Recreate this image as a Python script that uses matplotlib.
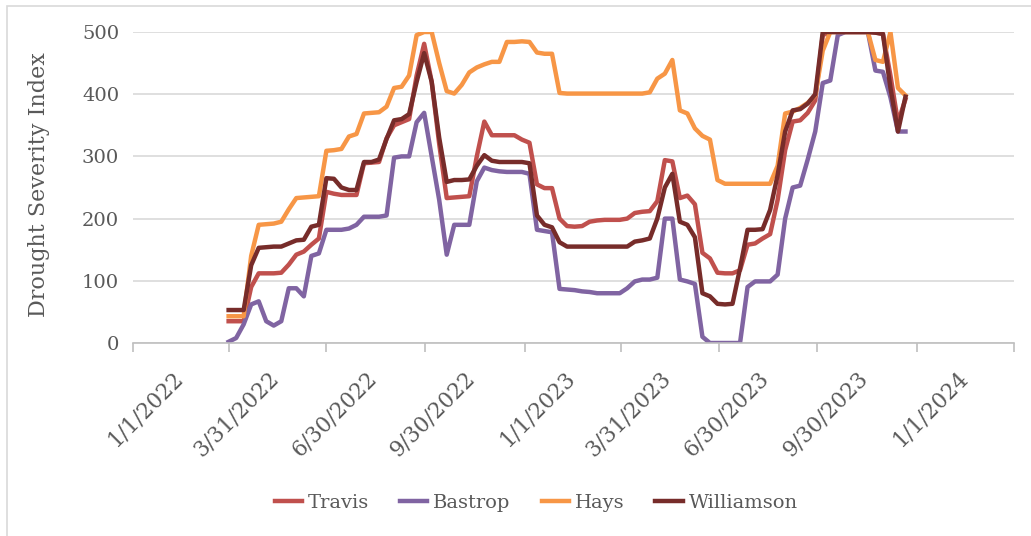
import numpy as np
import pandas as pd
import matplotlib
matplotlib.use("Agg")
import matplotlib.pyplot as plt
from matplotlib.patches import Rectangle
from matplotlib.transforms import ScaledTranslation

# %% Data (weekly drought severity index)

dates = pd.date_range("2022-03-31", periods=91, freq="7D")

travis = [35, 35, 35, 90, 112, 112, 112, 113, 126, 142,
          147, 158, 168, 243, 240, 238, 238, 238, 289, 290,
          291, 329, 350, 355, 360, 430, 481, 420, 320, 233,
          234, 235, 236, 300, 356, 334, 334, 334, 334, 327,
          322, 255, 249, 249, 200, 188, 187, 188, 195, 197,
          198, 198, 198, 200, 209, 211, 212, 228, 294, 292,
          233, 237, 223, 145, 136, 113, 112, 112, 117, 158,
          160, 168, 175, 230, 310, 356, 358, 370, 390, 495,
          500, 500, 500, 500, 500, 500, 499, 497, 430, 355,
          392]

bastrop = [2, 8, 30, 62, 67, 35, 28, 35, 88, 88,
           75, 140, 144, 182, 182, 182, 184, 190, 203, 203,
           203, 205, 298, 300, 300, 355, 370, 300, 230, 142,
           190, 190, 190, 260, 282, 278, 276, 275, 275, 275,
           272, 182, 180, 178, 87, 86, 85, 83, 82, 80,
           80, 80, 80, 88, 99, 102, 102, 105, 200, 200,
           102, 99, 95, 10, 0, 0, 0, 0, 0, 90,
           99, 99, 99, 110, 200, 250, 253, 295, 340, 418,
           422, 495, 500, 500, 500, 500, 438, 436, 395, 340,
           340]

hays = [43, 43, 43, 140, 190, 191, 192, 195, 215, 233,
        234, 235, 236, 309, 310, 312, 332, 336, 369, 370,
        371, 380, 410, 412, 430, 495, 500, 500, 450, 405,
        401, 415, 435, 443, 448, 452, 452, 484, 484, 485,
        484, 467, 465, 465, 402, 401, 401, 401, 401, 401,
        401, 401, 401, 401, 401, 401, 403, 425, 433, 455,
        374, 369, 345, 333, 327, 262, 256, 256, 256, 256,
        256, 256, 256, 285, 369, 372, 378, 386, 398, 470,
        500, 500, 500, 500, 500, 500, 455, 452, 500, 410,
        398]

williamson = [53, 53, 53, 125, 153, 154, 155, 155, 160, 165,
              166, 187, 190, 265, 264, 250, 246, 246, 291, 291,
              295, 328, 358, 360, 368, 420, 466, 420, 330, 259,
              262, 262, 263, 285, 302, 293, 291, 291, 291, 291,
              289, 205, 190, 186, 162, 155, 155, 155, 155, 155,
              155, 155, 155, 155, 163, 165, 168, 200, 250, 272,
              195, 190, 170, 80, 75, 63, 62, 63, 120, 182,
              182, 183, 214, 270, 340, 374, 376, 385, 400, 500,
              500, 500, 500, 500, 500, 500, 499, 497, 410, 340,
              396]

series = [("Travis", travis, "#C0504D"),
          ("Bastrop", bastrop, "#8064A2"),
          ("Hays", hays, "#F79646"),
          ("Williamson", williamson, "#772C2A")]

tick_dates = pd.to_datetime(["2022-01-01", "2022-03-31", "2022-06-30", "2022-09-30",
                             "2023-01-01", "2023-03-31", "2023-06-30", "2023-09-30",
                             "2024-01-01", "2024-03-31"])
tick_labels = ["1/1/2022", "3/31/2022", "6/30/2022", "9/30/2022",
               "1/1/2023", "3/31/2023", "6/30/2023", "9/30/2023",
               "1/1/2024", ""]

# %% Plot

plt.rcParams["font.family"] = ["DejaVu Serif"]
txt = "#595959"

fig = plt.figure(figsize=(10.31, 5.36), dpi=100)
ax = fig.add_axes([133/1031, 1-343/536, (1014-133)/1031, (343-32)/536])

for name, vals, col in series:
    ax.plot(dates, vals, color=col, lw=3.2, label=name, solid_joinstyle="round")

ax.set_xlim(tick_dates[0], tick_dates[-1])
ax.set_ylim(0, 500)
ax.set_yticks(np.arange(0, 501, 100))
ax.yaxis.grid(True, color="#D9D9D9", lw=1.2)
ax.set_axisbelow(True)

# rotated date labels, anchored right of the tick like Excel does
ax.set_xticks(tick_dates)
ax.set_xticklabels(tick_labels, rotation=45, ha="right", va="center",
                   rotation_mode="anchor")
ax.tick_params(axis="x", length=6.5, width=1.2, color="#BFBFBF", pad=16.5,
               labelsize=15.5, labelcolor=txt)
ax.tick_params(axis="y", length=0, pad=10, labelsize=14, labelcolor=txt)
shift = ScaledTranslation(0.47, 0, fig.dpi_scale_trans)
for lab in ax.get_xticklabels():
    lab.set_transform(lab.get_transform() + shift)

for s in ["top", "right", "left"]:
    ax.spines[s].set_visible(False)
ax.spines["bottom"].set_color("#BFBFBF")
ax.spines["bottom"].set_linewidth(1.2)

ax.set_ylabel("Drought Severity Index", fontsize=16, color=txt)
ax.yaxis.set_label_coords(50/1031, 1-185/536, transform=fig.transFigure)

fig.legend(loc="center", bbox_to_anchor=(0.52, 1-503/536), ncol=4, frameon=False,
           fontsize=14, handlelength=1.4, handletextpad=0.3, columnspacing=1.6,
           labelcolor=txt)

# chart area border
fig.patches.append(Rectangle((7/1031, -0.1), 1.2, 1.1-6/536, transform=fig.transFigure,
                             fill=False, edgecolor="#D9D9D9", lw=1.2, zorder=0))

fig.savefig("out.png", dpi=100)
